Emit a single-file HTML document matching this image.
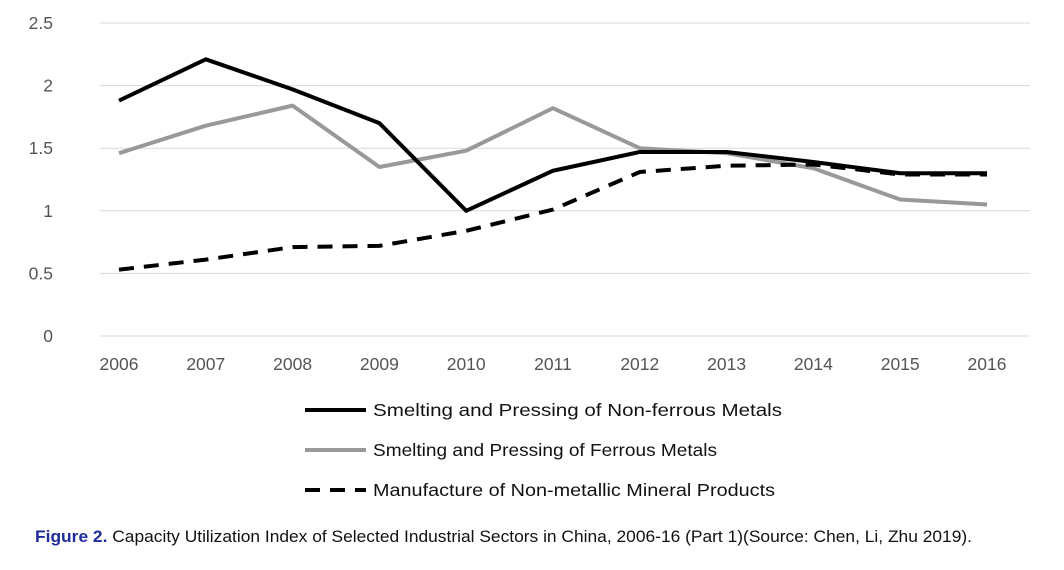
<!DOCTYPE html>
<html><head><meta charset="utf-8"><style>
body{margin:0;background:#fff;font-family:"Liberation Sans",sans-serif;}
svg text{font-family:"Liberation Sans",sans-serif;}
</style></head><body>
<svg width="1064" height="565">
<g id="grid"></g>
<g id="yt"></g>
<g id="xt"></g>
<g id="lines"></g>
<g>
<g><line x1="305" y1="410" x2="366" y2="410" stroke="#000" stroke-width="4"/><text x="373" y="416" font-size="17.5" fill="#111" textLength="409" lengthAdjust="spacingAndGlyphs">Smelting and Pressing of Non-ferrous Metals</text></g>
<g><line x1="305" y1="450" x2="366" y2="450" stroke="#999" stroke-width="4"/><text x="373" y="456" font-size="17.5" fill="#111" textLength="344" lengthAdjust="spacingAndGlyphs">Smelting and Pressing of Ferrous Metals</text></g>
<g><line x1="305" y1="490" x2="366" y2="490" stroke="#000" stroke-width="4" stroke-dasharray="15,10"/><text x="373" y="496" font-size="17.5" fill="#111" textLength="402" lengthAdjust="spacingAndGlyphs">Manufacture of Non-metallic Mineral Products</text></g>
</g>
<text x="35" y="542" font-size="16.5" fill="#111" textLength="937" lengthAdjust="spacingAndGlyphs"><tspan fill="#1f2b9c" font-weight="bold">Figure 2.</tspan> Capacity Utilization Index of Selected Industrial Sectors in China, 2006-16 (Part 1)(Source: Chen, Li, Zhu 2019).</text>
</svg>
<script>
const years=["2006","2007","2008","2009","2010","2011","2012","2013","2014","2015","2016"];
const yTicks=[0,0.5,1,1.5,2,2.5];
const nonFerrous=[1.88,2.21,1.97,1.70,1.00,1.32,1.47,1.47,1.39,1.30,1.30];
const ferrous=[1.46,1.68,1.84,1.35,1.48,1.82,1.50,1.46,1.34,1.09,1.05];
const nonMetallic=[0.53,0.61,0.71,0.72,0.84,1.01,1.31,1.36,1.37,1.29,1.29];
const NS="http://www.w3.org/2000/svg";
const x=i=>119+i*(987-119)/(years.length-1);
const y=v=>336-v*(336-23)/2.5;
function mk(t,a,p){const e=document.createElementNS(NS,t);for(const k in a)e.setAttribute(k,a[k]);p.appendChild(e);return e;}
const grid=document.getElementById('grid'),yt=document.getElementById('yt'),xt=document.getElementById('xt'),ln=document.getElementById('lines');
yTicks.forEach(v=>{
 const g=mk('line',{x1:100,x2:1030,y1:y(v),y2:y(v),stroke:'#d9d9d9','stroke-width':1},grid);
 
 
 const t=mk('text',{x:53,y:y(v)+6,'font-size':17.5,fill:'#555','text-anchor':'end'},yt);
 t.textContent=String(v);
 
 
});
years.forEach((yr,i)=>{
 const t=mk('text',{x:x(i),y:370,'font-size':17.5,fill:'#555','text-anchor':'middle'},xt);
 t.textContent=yr;
 
 
});
function line(d,st,dash,name){
 const p=mk('polyline',{points:d.map((v,i)=>x(i)+','+y(v)).join(' '),fill:'none',stroke:st,'stroke-width':4,'stroke-linejoin':'round'},ln);
 if(dash)p.setAttribute('stroke-dasharray',dash);
 
 
}
line(ferrous,'#999',null,'line-ferrous');
line(nonMetallic,'#000','15,10','line-nonmetallic');
line(nonFerrous,'#000',null,'line-nonferrous');
</script>
</body></html>
